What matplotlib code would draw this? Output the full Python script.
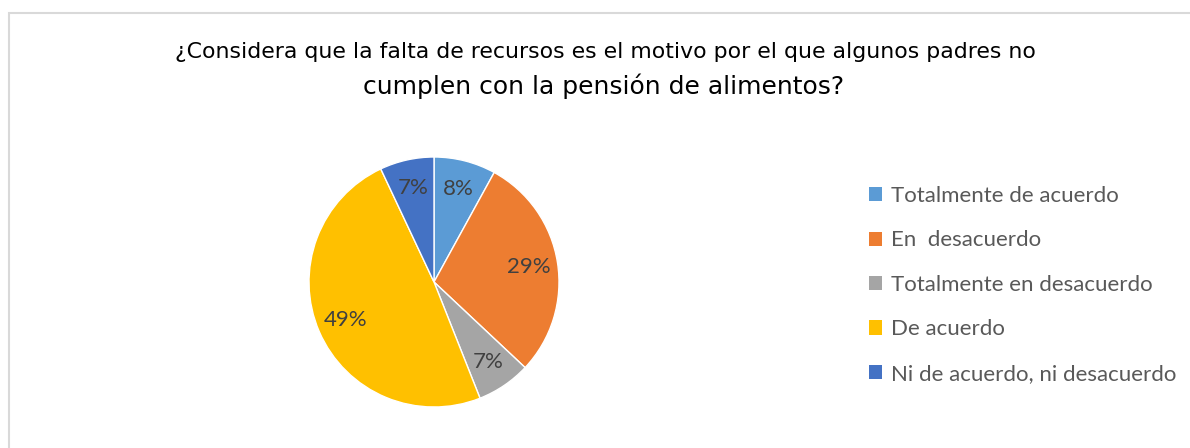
import matplotlib
matplotlib.use("Agg")
import matplotlib.pyplot as plt
from matplotlib.patches import Rectangle, Patch

categories = ["Totalmente de acuerdo", "En  desacuerdo", "Totalmente en desacuerdo",
              "De acuerdo", "Ni de acuerdo, ni desacuerdo"]
values = [8, 29, 7, 49, 7]
colors = ["#5B9BD5", "#ED7D31", "#A5A5A5", "#FFC000", "#4472C4"]
title_line1 = "¿Considera que la falta de recursos es el motivo por el que algunos padres no"
title_line2 = "cumplen con la pensión de alimentos?"

main_font = "Lato"

W, H = 1190, 448
fig = plt.figure(figsize=(W / 100, H / 100), dpi=100)

# chart border (cropped on right and bottom)
fig.patches.append(Rectangle((9 / W, -0.1), 1.2, 1 - 13 / H + 0.1, transform=fig.transFigure,
                             fill=False, edgecolor="#D9D9D9", linewidth=1.5))

fig.text(605 / W, 1 - 52 / H, title_line1, ha="center", va="center", fontsize=15.8,
         family="DejaVu Sans", color="#000000")
fig.text(604 / W, 1 - 86 / H, title_line2, ha="center", va="center", fontsize=18,
         family="DejaVu Sans", color="#000000")

cx, cy, r = 434, 282, 125
ax = fig.add_axes([(cx - r) / W, 1 - (cy + r) / H, 2 * r / W, 2 * r / H])
wedges, texts, autotexts = ax.pie(values, colors=colors, startangle=90, counterclock=False,
                                  autopct=lambda p: f"{p:.0f}%", pctdistance=0.77,
                                  wedgeprops=dict(edgecolor="white", linewidth=1))
for t in autotexts:
    t.set_fontsize(16)
    t.set_color("#404040")
    t.set_family(main_font)
ax.set_xlim(-1, 1)
ax.set_ylim(-1, 1)
ax.set_aspect("equal")

handles = [Patch(facecolor=c, edgecolor="none") for c in colors]
leg = fig.legend(handles, categories, loc="upper left", bbox_to_anchor=(849 / W, 1 - 166 / H),
                 frameon=False, handlelength=0.6, handleheight=0.6,
                 handletextpad=0.4, labelspacing=1.1, prop={"family": main_font, "size": 16})
for t in leg.get_texts():
    t.set_color("#595959")

fig.savefig("out.png", dpi=100)
